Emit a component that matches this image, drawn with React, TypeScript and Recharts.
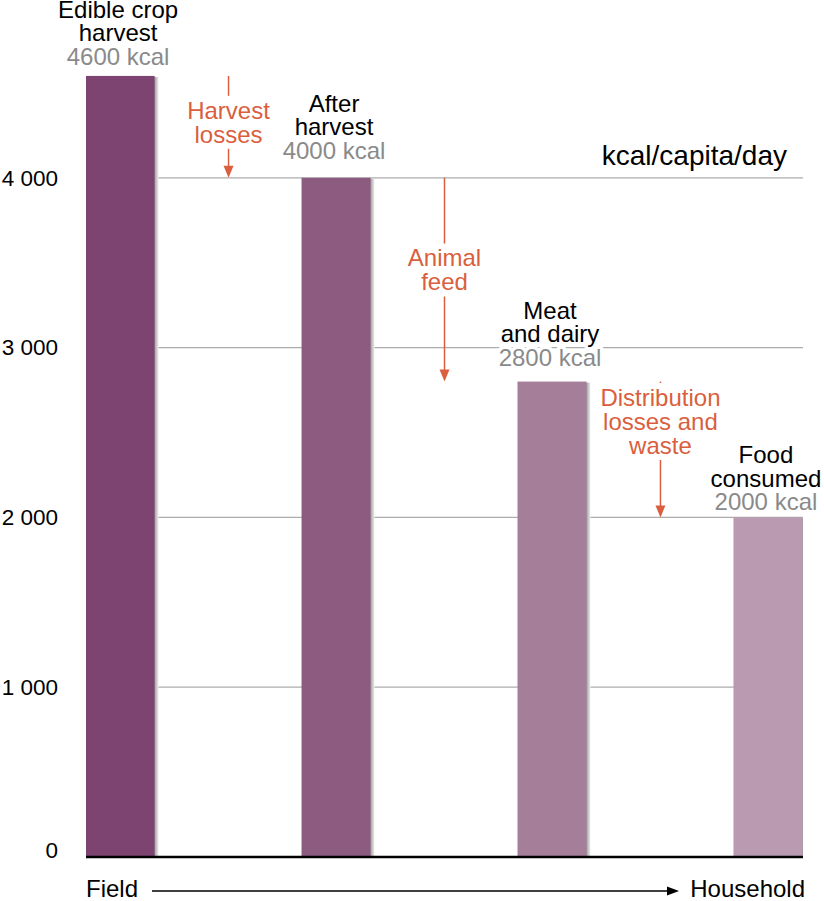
import React from "react";
import {
  BarChart, Bar, XAxis, YAxis, CartesianGrid, ReferenceLine, LabelList, Cell,
} from "recharts";

// stages of the food chain, kcal per capita per day
const stageNames = [
  ["Edible crop", "harvest"],
  ["After", "harvest"],
  ["Meat", "and dairy"],
  ["Food", "consumed"],
];
const stageKcal = [4600, 4000, 2800, 2000];

// what gets lost between two stages
const lossNames = [
  ["Harvest", "losses"],
  ["Animal", "feed"],
  ["Distribution", "losses and", "waste"],
];

const yTicks = [0, 1000, 2000, 3000, 4000];
const unitLabel = "kcal/capita/day";
const startLabel = "Field";
const endLabel = "Household";

const BAR_COLORS = ["#7d4472", "#8d5b80", "#a57f9a", "#b99ab1"];
const LOSS_COLOR = "#d95f3e";
const VALUE_GREY = "#8a8a8a";
const FONT = "'Liberation Sans', Arial, Helvetica, sans-serif";
const FS = 24;
const LABEL_LIFT = [11, 19, 16, 7];
const LOSS_TEXT_AT = [0.45, 0.45, 0.29];
const X_PAD = 0.16;

const chartData = stageNames.map((_, i) => ({ idx: i, kcal: stageKcal[i] }));

const fmtTick = (v: number) =>
  v === 0 ? "0" : `${Math.floor(v / 1000)} ${String(v % 1000).padStart(3, "0")}`;

const YTick = (props: any) => {
  const { x, y, payload } = props;
  return (
    <text x={x} y={y + (payload.value === 0 ? -7 : 0)} dy="0.35em" textAnchor="end"
      fontSize={22.5} fill="#000">
      {fmtTick(payload.value)}
    </text>
  );
};

const renderBar = (props: any) => {
  const { x, y, width, height, fill } = props;
  if (!height) return <g />;
  return (
    <g>
      <rect x={x + width - 1} y={y + 1} width={5} height={height - 1} fill="url(#barShadow)" />
      <rect x={x} y={y} width={width} height={height} fill={fill} />
    </g>
  );
};

const renderStageLabel = (props: any) => {
  const { x, y, width, index, value } = props;
  const lines = [...stageNames[index], `${value} kcal`];
  const cx = x + width / 2 - 2;
  const last = y - LABEL_LIFT[index];
  return (
    <g>
      {lines.map((t, k) => (
        <text key={k} x={cx} y={last - (lines.length - 1 - k) * 23.5} textAnchor="middle"
          fontSize={FS} fill={k === lines.length - 1 ? VALUE_GREY : "#000"}
          stroke="#fff" strokeWidth={7} paintOrder="stroke" strokeLinejoin="round">
          {t}
        </text>
      ))}
    </g>
  );
};

const lossShape = (i: number) => (props: any) => {
  const { x1, y1, y2 } = props;
  const lines = lossNames[i];
  const lh = 24;
  const cy = y1 + (y2 - y1) * LOSS_TEXT_AT[i];
  const top = cy - (lines.length * lh) / 2;
  const bottom = cy + (lines.length * lh) / 2;
  return (
    <g>
      <line x1={x1} y1={y1} x2={x1} y2={top - 2} stroke={LOSS_COLOR} strokeWidth={1.5} />
      <line x1={x1} y1={bottom + 3} x2={x1} y2={y2 - 10} stroke={LOSS_COLOR} strokeWidth={1.5} />
      <path d={`M${x1 - 5},${y2 - 12} L${x1 + 5},${y2 - 12} L${x1},${y2} Z`} fill={LOSS_COLOR} />
      {lines.map((t, k) => (
        <text key={k} x={x1} y={top + 21 + k * lh} textAnchor="middle" fontSize={FS} fill={LOSS_COLOR}>
          {t}
        </text>
      ))}
    </g>
  );
};

const unitContent = (props: any) => {
  const { viewBox } = props;
  return (
    <text x={viewBox.x + viewBox.width - 16} y={viewBox.y - 13} textAnchor="end" fontSize={28} fill="#000">
      {unitLabel}
    </text>
  );
};

const flowContent = (props: any) => {
  const { viewBox } = props;
  const { x, y, width } = viewBox;
  const ay = y + 34;
  const tip = x + width - 124;
  return (
    <g>
      <text x={x} y={y + 40} fontSize={FS} fill="#000">{startLabel}</text>
      <line x1={x + 66} y1={ay} x2={tip - 8} y2={ay} stroke="#000" strokeWidth={1.5} />
      <path d={`M${tip - 12},${ay - 4.5} L${tip},${ay} L${tip - 12},${ay + 4.5} Z`} fill="#000" />
      <text x={x + width + 2} y={y + 40} textAnchor="end" fontSize={FS} fill="#000">{endLabel}</text>
    </g>
  );
};

export default function App() {
  return (
    <div style={{ position: "absolute", left: 0, top: 0, fontFamily: FONT, background: "#fff" }}>
      <BarChart width={824} height={901} data={chartData}
        margin={{ top: 8, right: 21, bottom: 0, left: 0 }}>
        <defs>
          <linearGradient id="barShadow" x1="0" y1="0" x2="1" y2="0">
            <stop offset="0%" stopColor="#8a8a8a" />
            <stop offset="100%" stopColor="#f2f2f2" />
          </linearGradient>
        </defs>
        <CartesianGrid vertical={false} stroke="#acacac" strokeWidth={1.2}
          horizontalValues={yTicks} />
        <XAxis type="number" dataKey="idx" domain={[-X_PAD, 3 + X_PAD]} allowDataOverflow
          tick={false} tickLine={false} height={44}
          axisLine={{ stroke: "#000", strokeWidth: 2.5 }} label={{ content: flowContent }} />
        <YAxis type="number" domain={[0, 5000]} ticks={yTicks} width={86} axisLine={false}
          tickLine={false} tickSize={0} tickMargin={28} tick={<YTick />} />
        <ReferenceLine y={4000} stroke="none" label={{ content: unitContent }} />
        <Bar dataKey="kcal" barSize={69} isAnimationActive={false} shape={renderBar}>
          {chartData.map((_, i) => (
            <Cell key={i} fill={BAR_COLORS[i]} />
          ))}
          <LabelList dataKey="kcal" content={renderStageLabel} />
        </Bar>
        {lossNames.map((_, i) => (
          <ReferenceLine key={i} ifOverflow="visible"
            segment={[{ x: i + 0.5, y: stageKcal[i] }, { x: i + 0.5, y: stageKcal[i + 1] }]}
            shape={lossShape(i)} />
        ))}
      </BarChart>
    </div>
  );
}
